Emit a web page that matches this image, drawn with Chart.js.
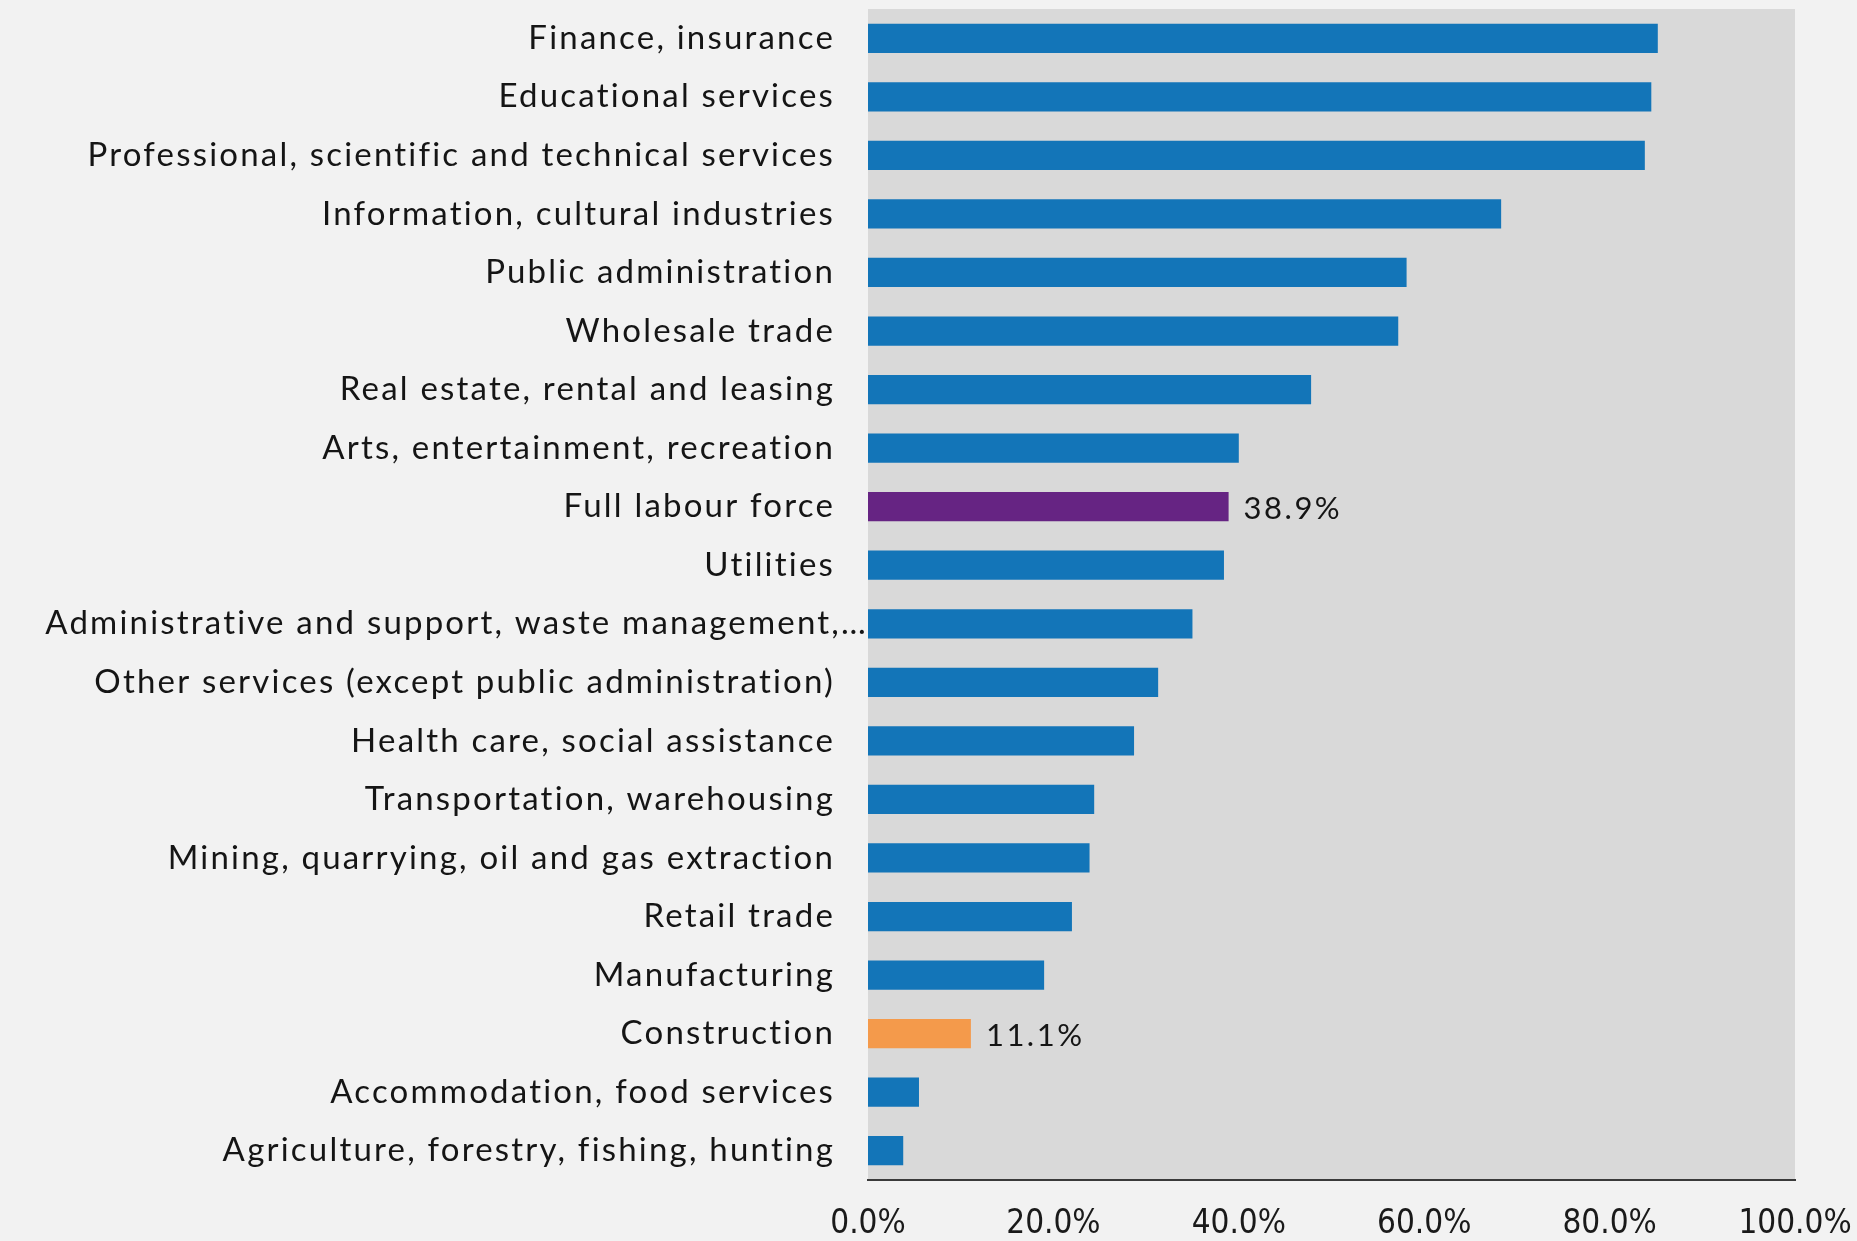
<!DOCTYPE html>
<html>
<head>
<meta charset="utf-8">
<script src="https://cdn.jsdelivr.net/npm/chart.js@4.4.0/dist/chart.umd.min.js"></script>
<style>
  html, body { margin: 0; padding: 0; background: #f2f2f2; }
  #wrap { width: 1857px; height: 1241px; }
</style>
</head>
<body>
<div id="wrap"><canvas id="chart"></canvas></div>
<script>
// categories, top to bottom
const industries = [
    'Finance, insurance',
    'Educational services',
    'Professional, scientific and technical services',
    'Information, cultural industries',
    'Public administration',
    'Wholesale trade',
    'Real estate, rental and leasing',
    'Arts, entertainment, recreation',
    'Full labour force',
    'Utilities',
    'Administrative and support, waste management,…',
    'Other services (except public administration)',
    'Health care, social assistance',
    'Transportation, warehousing',
    'Mining, quarrying, oil and gas extraction',
    'Retail trade',
    'Manufacturing',
    'Construction',
    'Accommodation, food services',
    'Agriculture, forestry, fishing, hunting'
];
// share (%)
const shares = [85.2, 84.5, 83.8, 68.3, 58.1, 57.2, 47.8, 40.0, 38.9, 38.4,
                35.0, 31.3, 28.7, 24.4, 23.9, 22.0, 19.0, 11.1, 5.5, 3.8];
// only these bars get a value label
const labelled = ['Full labour force', 'Construction'];
const xTicks = [0, 20, 40, 60, 80, 100];

const BLUE = '#1375b8', PURPLE = '#662483', ORANGE = '#f49a4b';

function barColor(name) {
    if (name === 'Full labour force') return PURPLE;
    if (name === 'Construction') return ORANGE;
    return BLUE;
}

// grey plot panel
const panelBg = {
    id: 'panelBg',
    beforeDraw(chart) {
        const { ctx, chartArea: a } = chart;
        ctx.save();
        ctx.fillStyle = '#d9d9d9';
        ctx.fillRect(a.left, a.top, a.right - a.left, a.bottom - a.top);
        ctx.restore();
    }
};

// category names + value labels
const textLayer = {
    id: 'textLayer',
    afterDraw(chart) {
        const { ctx, chartArea: a } = chart;
        const y = chart.scales.y;
        ctx.save();
        ctx.font = '33px Lato, "Open Sans", sans-serif';
        ctx.letterSpacing = '2.2px';
        ctx.fillStyle = '#151515';
        ctx.textBaseline = 'middle';
        ctx.textAlign = 'right';
        industries.forEach((name, i) => {
            const py = y.getPixelForValue(i);
            // the cut-off label runs right up to the panel
            const px = name.endsWith('…') ? a.left : a.left - 33;
            ctx.fillText(name, px, py);
        });
        const bars = chart.getDatasetMeta(0).data;
        ctx.textAlign = 'left';
        ctx.font = '31px Lato, "Open Sans", sans-serif';
        ctx.letterSpacing = '2.5px';
        industries.forEach((name, i) => {
            if (!labelled.includes(name)) return;
            const b = bars[i];
            ctx.fillText(shares[i].toFixed(1) + '%', b.x + 15, b.y + 2);
        });
        ctx.restore();
    }
};

new Chart(document.getElementById('chart'), {
    type: 'bar',
    data: {
        labels: industries,
        datasets: [{
            data: shares,
            backgroundColor: industries.map(barColor),
            borderWidth: 0,
            barPercentage: 0.5,
            categoryPercentage: 1.0
        }]
    },
    options: {
        indexAxis: 'y',
        responsive: true,
        maintainAspectRatio: false,
        animation: false,
        layout: { padding: { top: 9, right: 62, bottom: 0, left: 0 } },
        scales: {
            x: {
                min: 0, max: 100,
                afterFit(scale) {
                    scale.height = 61;
                    // don't let the last tick label widen the right margin
                    scale.paddingLeft = 0;
                    scale.paddingRight = 0;
                },
                afterBuildTicks(scale) { scale.ticks = xTicks.map(v => ({ value: v })); },
                grid: { display: false, drawTicks: false },
                border: { display: true, color: '#3a3a3a', width: 2 },
                ticks: {
                    padding: 25,
                    color: '#1a1a1a',
                    font: { family: '"DejaVu Sans Condensed", "DejaVu Sans"', size: 33 },
                    callback: v => v.toFixed(1) + '%'
                }
            },
            y: {
                afterFit(scale) { scale.width = 868; },
                grid: { display: false, drawTicks: false },
                border: { display: false },
                ticks: { display: false }
            }
        },
        plugins: {
            legend: { display: false },
            tooltip: { enabled: false }
        }
    },
    plugins: [panelBg, textLayer]
});
</script>
</body>
</html>
